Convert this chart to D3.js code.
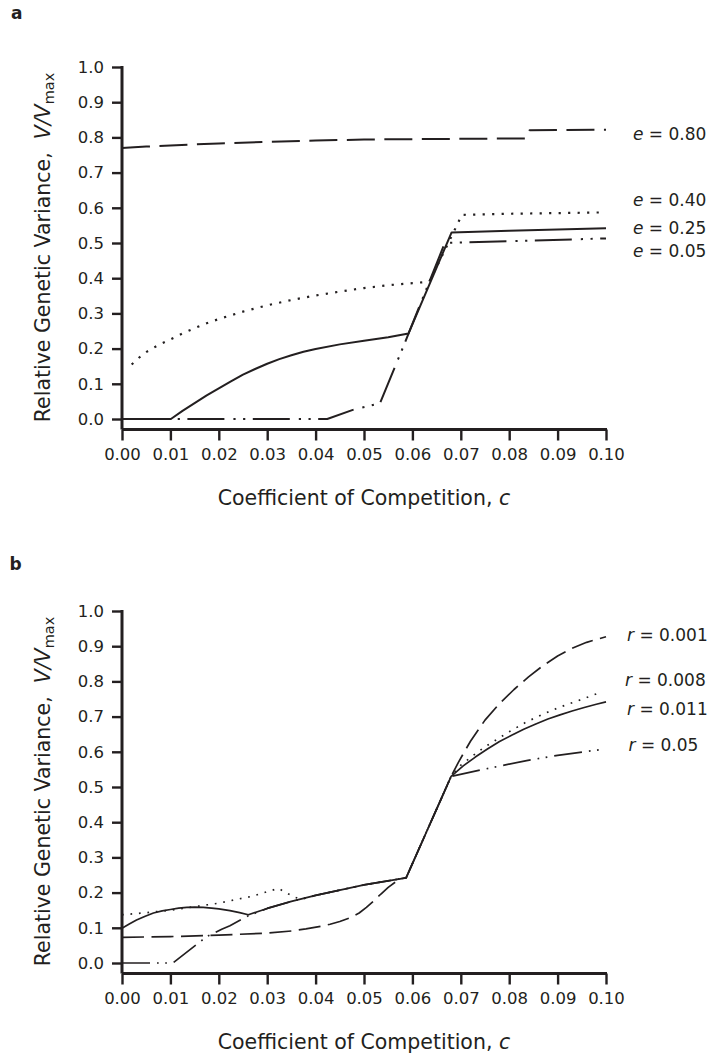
<!DOCTYPE html>
<html><head><meta charset="utf-8">
<script src="https://cdn.jsdelivr.net/npm/d3@7"></script>
<style>
body{margin:0;background:#fff;}
svg{display:block;font-family:"DejaVu Sans",sans-serif;}
</style></head><body>
<svg id="chart" width="710" height="1057"></svg>
<script>
// ---------- data ----------
const xTicks = [0,0.01,0.02,0.03,0.04,0.05,0.06,0.07,0.08,0.09,0.10];
const yTicks = [0,0.1,0.2,0.3,0.4,0.5,0.6,0.7,0.8,0.9,1.0];

// panel a : [c, V/Vmax]
const e080 = [[0,0.770],[0.005,0.774],[0.01,0.777],[0.02,0.783],[0.03,0.787],[0.04,0.791],[0.05,0.794],[0.06,0.795],[0.07,0.796],[0.0835,0.797],[0.0842,0.820],[0.09,0.821],[0.1,0.822]];
const e040 = [[0.002,0.155],[0.0035,0.174],[0.005,0.19],[0.0075,0.21],[0.01,0.226],[0.0125,0.243],[0.015,0.258],[0.0175,0.272],[0.02,0.284],[0.025,0.305],[0.03,0.323],[0.035,0.338],[0.04,0.351],[0.045,0.362],[0.05,0.372],[0.055,0.380],[0.06,0.386],[0.0635,0.39],[0.0694,0.556],[0.0702,0.580],[0.08,0.583],[0.1,0.587]];
const e025 = [[0,0],[0.0101,0],[0.0125,0.023],[0.015,0.045],[0.0175,0.067],[0.02,0.087],[0.0225,0.107],[0.025,0.126],[0.0275,0.142],[0.03,0.157],[0.0325,0.170],[0.035,0.181],[0.0375,0.191],[0.04,0.199],[0.045,0.212],[0.05,0.222],[0.055,0.232],[0.0592,0.243],[0.0681,0.530],[0.08,0.535],[0.1,0.542]];
const e005 = [[0,0],[0.0424,0],[0.0477,0.026],[0.0533,0.045],[0.0581,0.205],[0.0667,0.500],[0.08,0.505],[0.1,0.513]];

// panel b
const r0001 = [[0,0.073],[0.01,0.075],[0.02,0.079],[0.03,0.085],[0.035,0.091],[0.038,0.097],[0.041,0.104],[0.043,0.110],[0.045,0.118],[0.047,0.128],[0.049,0.142],[0.0505,0.158],[0.052,0.176],[0.0535,0.196],[0.055,0.215],[0.0565,0.230],[0.0578,0.240],[0.0587,0.242],[0.068,0.530],[0.0695,0.570],[0.072,0.630],[0.075,0.690],[0.078,0.737],[0.081,0.777],[0.084,0.813],[0.087,0.845],[0.09,0.872],[0.093,0.894],[0.096,0.911],[0.1,0.927]];
const r0008 = [[0,0.137],[0.005,0.143],[0.01,0.150],[0.016,0.162],[0.02,0.170],[0.027,0.190],[0.0323,0.212],[0.0355,0.188],[0.037,0.181],[0.04,0.192],[0.045,0.207],[0.05,0.222],[0.0587,0.242],[0.068,0.530],[0.07,0.562],[0.0726,0.590],[0.075,0.614],[0.08,0.657],[0.0836,0.685],[0.087,0.707],[0.0905,0.727],[0.095,0.749],[0.0985,0.767]];
const r0011 = [[0,0.099],[0.0015,0.111],[0.003,0.122],[0.0048,0.133],[0.0065,0.142],[0.0083,0.148],[0.01,0.152],[0.0117,0.156],[0.0134,0.158],[0.015,0.159],[0.0168,0.158],[0.0185,0.156],[0.02,0.154],[0.0223,0.149],[0.0243,0.143],[0.0261,0.137],[0.03,0.155],[0.035,0.175],[0.04,0.192],[0.045,0.207],[0.05,0.222],[0.0587,0.242],[0.068,0.530],[0.0705,0.560],[0.073,0.585],[0.0755,0.608],[0.078,0.629],[0.0805,0.647],[0.083,0.664],[0.0855,0.679],[0.088,0.693],[0.0905,0.705],[0.093,0.716],[0.0955,0.726],[0.098,0.735],[0.1,0.742]];
const r005 = [[0,0],[0.0105,0],[0.0175,0.075],[0.0206,0.096],[0.0223,0.106],[0.0261,0.134],[0.03,0.155],[0.035,0.175],[0.04,0.192],[0.045,0.207],[0.05,0.222],[0.0587,0.242],[0.068,0.530],[0.075,0.551],[0.0836,0.575],[0.09,0.590],[0.0988,0.606]];

const eLabels = ["0.80","0.40","0.25","0.05"];
const rLabels = ["0.001","0.008","0.011","0.05"];

// ---------- drawing ----------
const ink = "#231f20";
const svg = d3.select("#chart");

function panel(offY, letter, series, symbol, labels, labelPos) {
  const g = svg.append("g").attr("transform", `translate(0,${offY})`);
  const x = d3.scaleLinear().domain([0,0.1]).range([122,606]);
  const y = d3.scaleLinear().domain([0,1]).range([419,67]);
  const axisY = 429.5;

  const xa = g.append("g").attr("transform", `translate(0,${axisY})`)
    .call(d3.axisBottom(x).tickValues(xTicks).tickFormat(d3.format(".2f"))
      .tickSize(11).tickSizeOuter(0).tickPadding(8));
  const ya = g.append("g").attr("transform", "translate(122,0)")
    .call(d3.axisLeft(y).tickValues(yTicks).tickFormat(d3.format(".1f"))
      .tickSize(10).tickSizeOuter(0).tickPadding(8));
  ya.select(".domain").attr("d", `M0,${y(1)-1}V${axisY}`);
  xa.select(".domain").attr("d", `M${x(0)},0H${x(0.1)+1}`);
  [xa, ya].forEach(a => {
    a.attr("font-family", null).attr("font-size", null);
    a.select(".domain").attr("stroke", ink).attr("stroke-width", 3);
    a.selectAll(".tick line").attr("stroke", ink).attr("stroke-width", 2.4);
    a.selectAll(".tick text").attr("fill", ink).style("font-size", "16.5px");
  });

  const line = d3.line().x(d => x(d[0])).y(d => y(d[1]));
  series.forEach(s => {
    g.append("path").datum(s.data).attr("d", line)
      .attr("fill", "none").attr("stroke", ink)
      .attr("stroke-width", s.w).attr("stroke-dasharray", s.dash)
      .attr("stroke-linejoin", "round");
  });

  labels.forEach((lab, i) => {
    const t = g.append("text").attr("x", labelPos[i][0]).attr("y", labelPos[i][1])
      .attr("fill", ink).style("font-size", "17px");
    t.append("tspan").attr("font-style", "italic").text(symbol);
    t.append("tspan").text(" = " + lab);
  });

  // y title
  const yt = g.append("text").attr("transform", "translate(50,247.5) rotate(-90)")
    .attr("text-anchor", "middle").attr("fill", ink).style("font-size", "20.5px");
  yt.append("tspan").text("Relative Genetic Variance,\u00a0\u00a0");
  yt.append("tspan").attr("font-style", "italic").text("V/V");
  yt.append("tspan").attr("dy", "0.3em").style("font-size", "14.5px").text("max");

  // x title
  const xt = g.append("text").attr("x", 364).attr("y", 504.5)
    .attr("text-anchor", "middle").attr("fill", ink).style("font-size", "20.5px");
  xt.append("tspan").text("Coefficient of Competition, ");
  xt.append("tspan").attr("font-style", "italic").text("c");

  g.append("text").attr("x", letter.x).attr("y", letter.y).attr("fill", ink)
    .attr("font-weight", "bold").style("font-size", "17px").text(letter.t);
}

panel(0, {t:"a", x:11, y:18.5}, [
  {data:e080, w:2, dash:"28,9.5"},
  {data:e040, w:2.2, dash:"2.2,7.3"},
  {data:e025, w:2, dash:null},
  {data:e005, w:2, dash:"37,9,2.2,7.5,2.2,7.5"}
], "e", eLabels, [[633,139.5],[633,206],[633,233.5],[633,257]]);

panel(544, {t:"b", x:9.5, y:25.5}, [
  {data:r0001, w:1.7, dash:"22,7.5"},
  {data:r0008, w:1.7, dash:"1.7,6.8"},
  {data:r0011, w:1.7, dash:null},
  {data:r005, w:1.7, dash:"28,7,1.7,6.5,1.7,7"}
], "r", rLabels, [[627,96.7],[625,141.7],[627,171],[628.5,206.7]]);
</script>
</body></html>
